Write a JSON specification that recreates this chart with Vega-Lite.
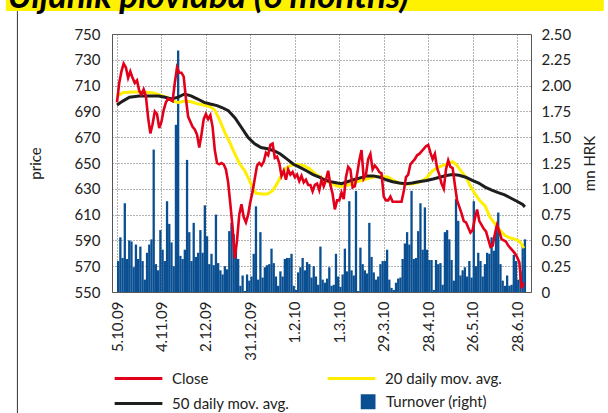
{
  "$schema": "https://vega.github.io/schema/vega-lite/v6.json",
  "width": 419,
  "height": 258,
  "autosize": {"type": "none"},
  "padding": {"left": 112, "top": 34, "right": 77, "bottom": 121},
  "background": "white",
  "config": {
    "font": "Lato",
    "view": {"stroke": "#555555", "strokeWidth": 1},
    "axis": {"labelFont": "Lato", "labelFontSize": 15, "labelColor": "#222222", "titleFont": "Lato", "titleFontSize": 15, "titleFontWeight": "normal", "titleColor": "#222222", "ticks": false, "domain": false, "gridColor": "#666666", "gridDash": [1, 2], "gridWidth": 1, "gridOpacity": 1, "labelOverlap": false, "labelSeparation": 0}
  },
  "datasets": {
    "days": [
      {"t":0,"c":697,"v":0.30},{"t":1,"c":712,"v":0.53},{"t":2,"c":721,"v":0.33},{"t":3,"c":727,"v":0.86},{"t":4,"c":724,"v":0.32},{"t":5,"c":716,"v":0.50},{"t":6,"c":721,"v":0.49},{"t":7,"c":716,"v":0.24},{"t":8,"c":712,"v":0.46},{"t":9,"c":714,"v":0.32},
      {"t":10,"c":706,"v":0.44},{"t":11,"c":703,"v":0.30},{"t":12,"c":707,"v":0.12},{"t":13,"c":702,"v":0.38},{"t":14,"c":685,"v":0.46},{"t":15,"c":673,"v":0.51},{"t":16,"c":680,"v":1.38},{"t":17,"c":690,"v":0.27},{"t":18,"c":688,"v":0.21},{"t":19,"c":677,"v":0.60},
      {"t":20,"c":682,"v":0.41},{"t":21,"c":691,"v":0.30},{"t":22,"c":697,"v":0.88},{"t":23,"c":700,"v":0.66},{"t":24,"c":699,"v":0.48},{"t":25,"c":698,"v":0.25},{"t":26,"c":712,"v":1.62},{"t":27,"c":724,"v":2.34},{"t":28,"c":720,"v":0.35},{"t":29,"c":720,"v":0.32},
      {"t":30,"c":717,"v":0.41},{"t":31,"c":700,"v":1.28},{"t":32,"c":686,"v":0.58},{"t":33,"c":682,"v":0.30},{"t":34,"c":678,"v":0.67},{"t":35,"c":676,"v":0.34},{"t":36,"c":672,"v":0.38},{"t":37,"c":662,"v":0.60},{"t":38,"c":672,"v":0.38},{"t":39,"c":684,"v":0.84},
      {"t":40,"c":688,"v":0.54},{"t":41,"c":684,"v":0.27},{"t":42,"c":687,"v":0.37},{"t":43,"c":678,"v":0.26},{"t":44,"c":660,"v":0.75},{"t":45,"c":650,"v":0.28},{"t":46,"c":649,"v":0.21},{"t":47,"c":650,"v":0.17},{"t":48,"c":649,"v":0.25},{"t":49,"c":645,"v":0.22},
      {"t":50,"c":635,"v":0.59},{"t":51,"c":618,"v":0.67},{"t":52,"c":600,"v":0.56},{"t":53,"c":576,"v":0.40},{"t":54,"c":590,"v":0.32},{"t":55,"c":610,"v":0.06},{"t":56,"c":618,"v":0.16},{"t":57,"c":608,"v":0.01},{"t":58,"c":604,"v":0.17},{"t":59,"c":610,"v":0.11},
      {"t":60,"c":620,"v":0.15},{"t":61,"c":628,"v":0.37},{"t":62,"c":638,"v":0.83},{"t":63,"c":648,"v":0.12},{"t":64,"c":650,"v":0.58},{"t":65,"c":648,"v":0.14},{"t":66,"c":651,"v":0.24},{"t":67,"c":658,"v":0.26},{"t":68,"c":656,"v":0.27},{"t":69,"c":664,"v":0.42},
      {"t":70,"c":665,"v":0.28},{"t":71,"c":654,"v":0.15},{"t":72,"c":655,"v":0.06},{"t":73,"c":650,"v":0.20},{"t":74,"c":640,"v":0.15},{"t":75,"c":644,"v":0.32},{"t":76,"c":637,"v":0.33},{"t":77,"c":645,"v":0.33},{"t":78,"c":641,"v":0.37},{"t":79,"c":643,"v":0.06},
      {"t":80,"c":639,"v":0.02},{"t":81,"c":641,"v":0.19},{"t":82,"c":636,"v":0.24},{"t":83,"c":640,"v":0.33},{"t":84,"c":635,"v":0.21},{"t":85,"c":637,"v":0.29},{"t":86,"c":633,"v":0.27},{"t":87,"c":633,"v":0.14},{"t":88,"c":628,"v":0.25},{"t":89,"c":633,"v":0.15},
      {"t":90,"c":634,"v":0.07},{"t":91,"c":629,"v":0.44},{"t":92,"c":637,"v":0.12},{"t":93,"c":632,"v":0.09},{"t":94,"c":637,"v":0.13},{"t":95,"c":644,"v":0.24},{"t":96,"c":633,"v":0.06},{"t":97,"c":626,"v":0.07},{"t":98,"c":614,"v":0.37},{"t":99,"c":621,"v":0.15},
      {"t":100,"c":621,"v":0.05},{"t":101,"c":627,"v":0.17},{"t":102,"c":622,"v":0.42},{"t":103,"c":639,"v":0.20},{"t":104,"c":647,"v":0.88},{"t":105,"c":645,"v":0.21},{"t":106,"c":631,"v":0.16},{"t":107,"c":632,"v":0.98},{"t":108,"c":641,"v":0.01},{"t":109,"c":652,"v":0.43},
      {"t":110,"c":660,"v":0.27},{"t":111,"c":638,"v":0.21},{"t":112,"c":641,"v":0.18},{"t":113,"c":653,"v":0.67},{"t":114,"c":657,"v":0.34},{"t":115,"c":645,"v":0.19},{"t":116,"c":648,"v":0.12},{"t":117,"c":646,"v":0.15},{"t":118,"c":643,"v":0.27},{"t":119,"c":642,"v":0.30},
      {"t":120,"c":624,"v":0.30},{"t":121,"c":621,"v":0.41},{"t":122,"c":621,"v":0.12},{"t":123,"c":624,"v":0.04},{"t":124,"c":620,"v":0.02},{"t":125,"c":620,"v":0.09},{"t":126,"c":620,"v":0.13},{"t":127,"c":620,"v":0.14},{"t":128,"c":620,"v":0.32},{"t":129,"c":628,"v":0.47},
      {"t":130,"c":639,"v":0.58},{"t":131,"c":641,"v":0.46},{"t":132,"c":649,"v":0.98},{"t":133,"c":651,"v":0.32},{"t":134,"c":653,"v":0.33},{"t":135,"c":656,"v":0.59},{"t":136,"c":657,"v":0.86},{"t":137,"c":659,"v":0.41},{"t":138,"c":661,"v":0.82},{"t":139,"c":663,"v":0.41},
      {"t":140,"c":664,"v":0.31},{"t":141,"c":658,"v":0.31},{"t":142,"c":653,"v":0.02},{"t":143,"c":657,"v":0.31},{"t":144,"c":646,"v":0.27},{"t":145,"c":641,"v":0.28},{"t":146,"c":634,"v":0.07},{"t":147,"c":630,"v":0.58},{"t":148,"c":645,"v":0.60},{"t":149,"c":652,"v":0.51},
      {"t":150,"c":647,"v":0.31},{"t":151,"c":646,"v":0.11},{"t":152,"c":633,"v":0.90},{"t":153,"c":621,"v":0.69},{"t":154,"c":616,"v":0.16},{"t":155,"c":611,"v":0.21},{"t":156,"c":605,"v":0.24},{"t":157,"c":604,"v":0.15},{"t":158,"c":600,"v":0.30},{"t":159,"c":596,"v":0.14},
      {"t":160,"c":598,"v":0.88},{"t":161,"c":607,"v":0.25},{"t":162,"c":614,"v":0.38},{"t":163,"c":605,"v":0.30},{"t":164,"c":602,"v":0.15},{"t":165,"c":599,"v":0.27},{"t":166,"c":597,"v":0.38},{"t":167,"c":591,"v":0.37},{"t":168,"c":585,"v":0.53},{"t":169,"c":586,"v":0.40},
      {"t":170,"c":595,"v":0.67},{"t":171,"c":602,"v":0.77},{"t":172,"c":597,"v":0.27},{"t":173,"c":591,"v":0.11},{"t":174,"c":590,"v":0.06},{"t":175,"c":589,"v":0.16},{"t":176,"c":586,"v":0.06},{"t":177,"c":584,"v":0.07},{"t":178,"c":582,"v":0.36},{"t":179,"c":580,"v":0.30},
      {"t":180,"c":577,"v":0.12},{"t":181,"c":573,"v":0.20},{"t":182,"c":553,"v":0.46},{"t":183,"c":557,"v":0.51}
    ],
    "ma20": [
      {"t":0,"m":702},{"t":3,"m":704.7},{"t":7,"m":705},{"t":11,"m":705},{"t":16,"m":704.5},{"t":19,"m":703},{"t":22,"m":701},{"t":25,"m":698},{"t":27.5,"m":697},{"t":30.5,"m":698},
      {"t":33.5,"m":697.5},{"t":36.5,"m":695.7},{"t":39,"m":695},{"t":42,"m":693.6},{"t":44,"m":691},{"t":46,"m":684},{"t":48.7,"m":673},{"t":51,"m":665},{"t":53,"m":657},{"t":55.3,"m":649},
      {"t":57.5,"m":644},{"t":59.7,"m":636},{"t":61,"m":631},{"t":62.6,"m":626.5},{"t":65,"m":626},{"t":67.7,"m":626},{"t":70,"m":628.5},{"t":72,"m":634},{"t":73.5,"m":639},{"t":75.7,"m":645.5},
      {"t":78,"m":648},{"t":81,"m":649},{"t":84,"m":648},{"t":86.7,"m":645.5},{"t":89.6,"m":641},{"t":91.8,"m":639},{"t":94,"m":636},{"t":96,"m":634.5},{"t":99,"m":632},{"t":102,"m":632},
      {"t":105,"m":633.5},{"t":108,"m":635.5},{"t":111,"m":637},{"t":114,"m":638.5},{"t":117,"m":639.6},{"t":120,"m":639.6},{"t":122,"m":639},{"t":124,"m":637},{"t":127,"m":634.5},{"t":130,"m":633.5},
      {"t":133,"m":634},{"t":136,"m":635},{"t":139,"m":638},{"t":142,"m":644},{"t":145,"m":647},{"t":148,"m":649},{"t":151,"m":651},{"t":152.5,"m":649},{"t":154.7,"m":644},{"t":157,"m":639},
      {"t":159,"m":632},{"t":161.3,"m":625.5},{"t":163.4,"m":620.5},{"t":165.6,"m":616.7},{"t":167.8,"m":608},{"t":170,"m":603},{"t":172.2,"m":598},{"t":174.4,"m":594},{"t":176.6,"m":592},{"t":178.8,"m":591},
      {"t":180.3,"m":590},{"t":181.7,"m":588},{"t":183,"m":584}
    ],
    "ma50": [
      {"t":0,"m":695},{"t":2.6,"m":698},{"t":5.6,"m":701},{"t":10,"m":702},{"t":14,"m":702},{"t":18.7,"m":702},{"t":21.6,"m":701},{"t":24.6,"m":699.6},{"t":27.5,"m":701},{"t":30.4,"m":703.5},
      {"t":33.3,"m":702},{"t":36.3,"m":699.6},{"t":39.2,"m":697},{"t":42,"m":695.7},{"t":45,"m":694.5},{"t":47.2,"m":693},{"t":50.1,"m":690.5},{"t":53.1,"m":685},{"t":56,"m":677.5},{"t":58.9,"m":670},
      {"t":61.8,"m":665},{"t":64.8,"m":662},{"t":67.7,"m":661},{"t":70.6,"m":659.5},{"t":73.5,"m":657},{"t":76.5,"m":653},{"t":79.4,"m":649},{"t":82.3,"m":646.6},{"t":85.2,"m":644},{"t":88.2,"m":641},
      {"t":91,"m":639},{"t":93.3,"m":637},{"t":96.2,"m":635.5},{"t":99.2,"m":634.5},{"t":101,"m":634},{"t":103.6,"m":635.5},{"t":106.5,"m":637},{"t":109.4,"m":638.5},{"t":112.3,"m":640},{"t":115.3,"m":640},
      {"t":118.2,"m":639},{"t":121.1,"m":637},{"t":124,"m":635.5},{"t":127,"m":634.5},{"t":130,"m":634},{"t":132.8,"m":634.5},{"t":135.7,"m":635.5},{"t":139.3,"m":636.5},{"t":142.2,"m":637.6},{"t":145.2,"m":639},
      {"t":148.1,"m":640.3},{"t":151,"m":641},{"t":153.9,"m":640.5},{"t":156.9,"m":639},{"t":159.8,"m":636.5},{"t":162.7,"m":634.5},{"t":165.6,"m":631.3},{"t":168.6,"m":629},{"t":171.5,"m":627},{"t":174.4,"m":625.3},
      {"t":177.3,"m":622.7},{"t":180.3,"m":620},{"t":182.5,"m":617.8},{"t":183.5,"m":616}
    ]
  },
  "data": {"name": "days"},
  "layer": [
    {
      "mark": {"type": "bar", "size": 2.3, "xOffset": 1.14, "stroke": null},
      "encoding": {
        "x": {"field": "t", "type": "quantitative", "scale": {"domain": [0, 184], "nice": false, "zero": false},
              "axis": {"orient": "bottom", "values": [0,20,40,60,80,100,120,140,160,180], "tickCount": 10, "labelExpr": "['5.10.09','4.11.09','2.12.09','31.12.09','1.2.10','1.3.10','29.3.10','28.4.10','26.5.10','28.6.10'][round(datum.value/20)]", "labelAngle": 270, "labelPadding": 9, "labelOverlap": false, "grid": true, "title": null}},
        "y": {"field": "v", "type": "quantitative", "scale": {"domain": [0, 2.5], "nice": false},
              "axis": {"orient": "right", "values": [0,0.25,0.5,0.75,1,1.25,1.5,1.75,2,2.25,2.5], "tickCount": 11, "labelExpr": "datum.value == 0 ? '0' : format(datum.value, '.2f')", "labelOverlap": false, "grid": false, "labelPadding": 10, "title": "mn HRK", "titleAngle": 270, "titleBaseline": "top", "titlePadding": 12}},
        "fill": {"datum": "Turnover (right)", "type": "nominal", "scale": {"domain": ["Turnover (right)"], "range": ["#0a4f91"]},
                 "legend": {"orient": "none", "legendX": 248.5, "legendY": 357.7, "title": null, "padding": 0, "symbolType": "square", "symbolSize": 225, "symbolStrokeWidth": 0, "clipHeight": 20, "labelOffset": 10.5, "labelFont": "Lato", "labelFontSize": 15, "labelColor": "#222222", "labelLimit": 300}}
      }
    },
    {
      "layer": [
        {
          "data": {"values": [{}]},
          "mark": {"type": "rect", "fill": "#fff200", "stroke": null},
          "encoding": {
            "x": {"datum": -50, "type": "quantitative", "scale": {"domain": [0, 184], "nice": false, "zero": false}},
            "x2": {"datum": 219},
            "y": {"datum": 776.4, "type": "quantitative", "scale": {"domain": [550, 750], "nice": false, "zero": false},
                  "axis": {"orient": "left", "values": [550,570,590,610,630,650,670,690,710,730,750], "tickCount": 11, "labelOverlap": false, "labelSeparation": 0, "grid": true, "labelPadding": 12, "title": "price", "titlePadding": 30}},
            "y2": {"datum": 767.8}
          }
        },
        {
          "data": {"values": [{}]},
          "mark": {"type": "text", "text": "Uljanik plovidba (6 months)", "align": "left", "baseline": "alphabetic", "font": "Lato", "fontSize": 35, "fontStyle": "italic", "fontWeight": "bold", "fill": "#000000"},
          "encoding": {
            "x": {"datum": -49.2, "type": "quantitative", "scale": {"domain": [0, 184], "nice": false, "zero": false}},
            "y": {"datum": 770.2, "type": "quantitative", "scale": {"domain": [550, 750], "nice": false, "zero": false}}
          }
        },
        {
          "data": {"values": [{}]},
          "mark": {"type": "rule", "stroke": "#333333", "strokeWidth": 1},
          "encoding": {
            "x": {"datum": -44.8, "type": "quantitative", "scale": {"domain": [0, 184], "nice": false, "zero": false}},
            "y": {"datum": 767.8, "type": "quantitative", "scale": {"domain": [550, 750], "nice": false, "zero": false}},
            "y2": {"datum": 450}
          }
        },
        {
          "data": {"name": "ma20"},
          "mark": {"type": "line", "strokeWidth": 3},
          "encoding": {
            "x": {"field": "t", "type": "quantitative", "scale": {"domain": [0, 184], "nice": false, "zero": false}},
            "y": {"field": "m", "type": "quantitative", "scale": {"domain": [550, 750], "nice": false, "zero": false}},
            "stroke": {"datum": "20 daily mov. avg.", "type": "nominal", "scale": {"domain": ["Close", "20 daily mov. avg.", "50 daily mov. avg."], "range": ["#e2001a", "#ffee00", "#1e1e1e"]}}
          }
        },
        {
          "data": {"name": "ma50"},
          "mark": {"type": "line", "strokeWidth": 3},
          "encoding": {
            "x": {"field": "t", "type": "quantitative", "scale": {"domain": [0, 184], "nice": false, "zero": false}},
            "y": {"field": "m", "type": "quantitative", "scale": {"domain": [550, 750], "nice": false, "zero": false}},
            "stroke": {"datum": "50 daily mov. avg.", "type": "nominal", "scale": {"domain": ["Close", "20 daily mov. avg.", "50 daily mov. avg."], "range": ["#e2001a", "#ffee00", "#1e1e1e"]}}
          }
        },
        {
          "mark": {"type": "line", "strokeWidth": 2.6},
          "encoding": {
            "x": {"field": "t", "type": "quantitative", "scale": {"domain": [0, 184], "nice": false, "zero": false}},
            "y": {"field": "c", "type": "quantitative", "scale": {"domain": [550, 750], "nice": false, "zero": false}},
            "stroke": {"datum": "Close", "type": "nominal", "scale": {"domain": ["Close", "20 daily mov. avg.", "50 daily mov. avg."], "range": ["#e2001a", "#ffee00", "#1e1e1e"]},
                       "legend": {"orient": "none", "direction": "horizontal", "legendX": 1, "legendY": 334.5, "columns": 2, "columnPadding": 36, "rowPadding": 5, "clipHeight": 20, "title": null, "padding": 0, "values": ["Close", "20 daily mov. avg.", "50 daily mov. avg."], "symbolType": "stroke", "symbolSize": 2275, "symbolStrokeWidth": 3, "labelOffset": 8, "labelFont": "Lato", "labelFontSize": 15, "labelColor": "#222222", "labelLimit": 300}}
          }
        }
      ]
    }
  ],
  "resolve": {"scale": {"y": "independent"}}
}
